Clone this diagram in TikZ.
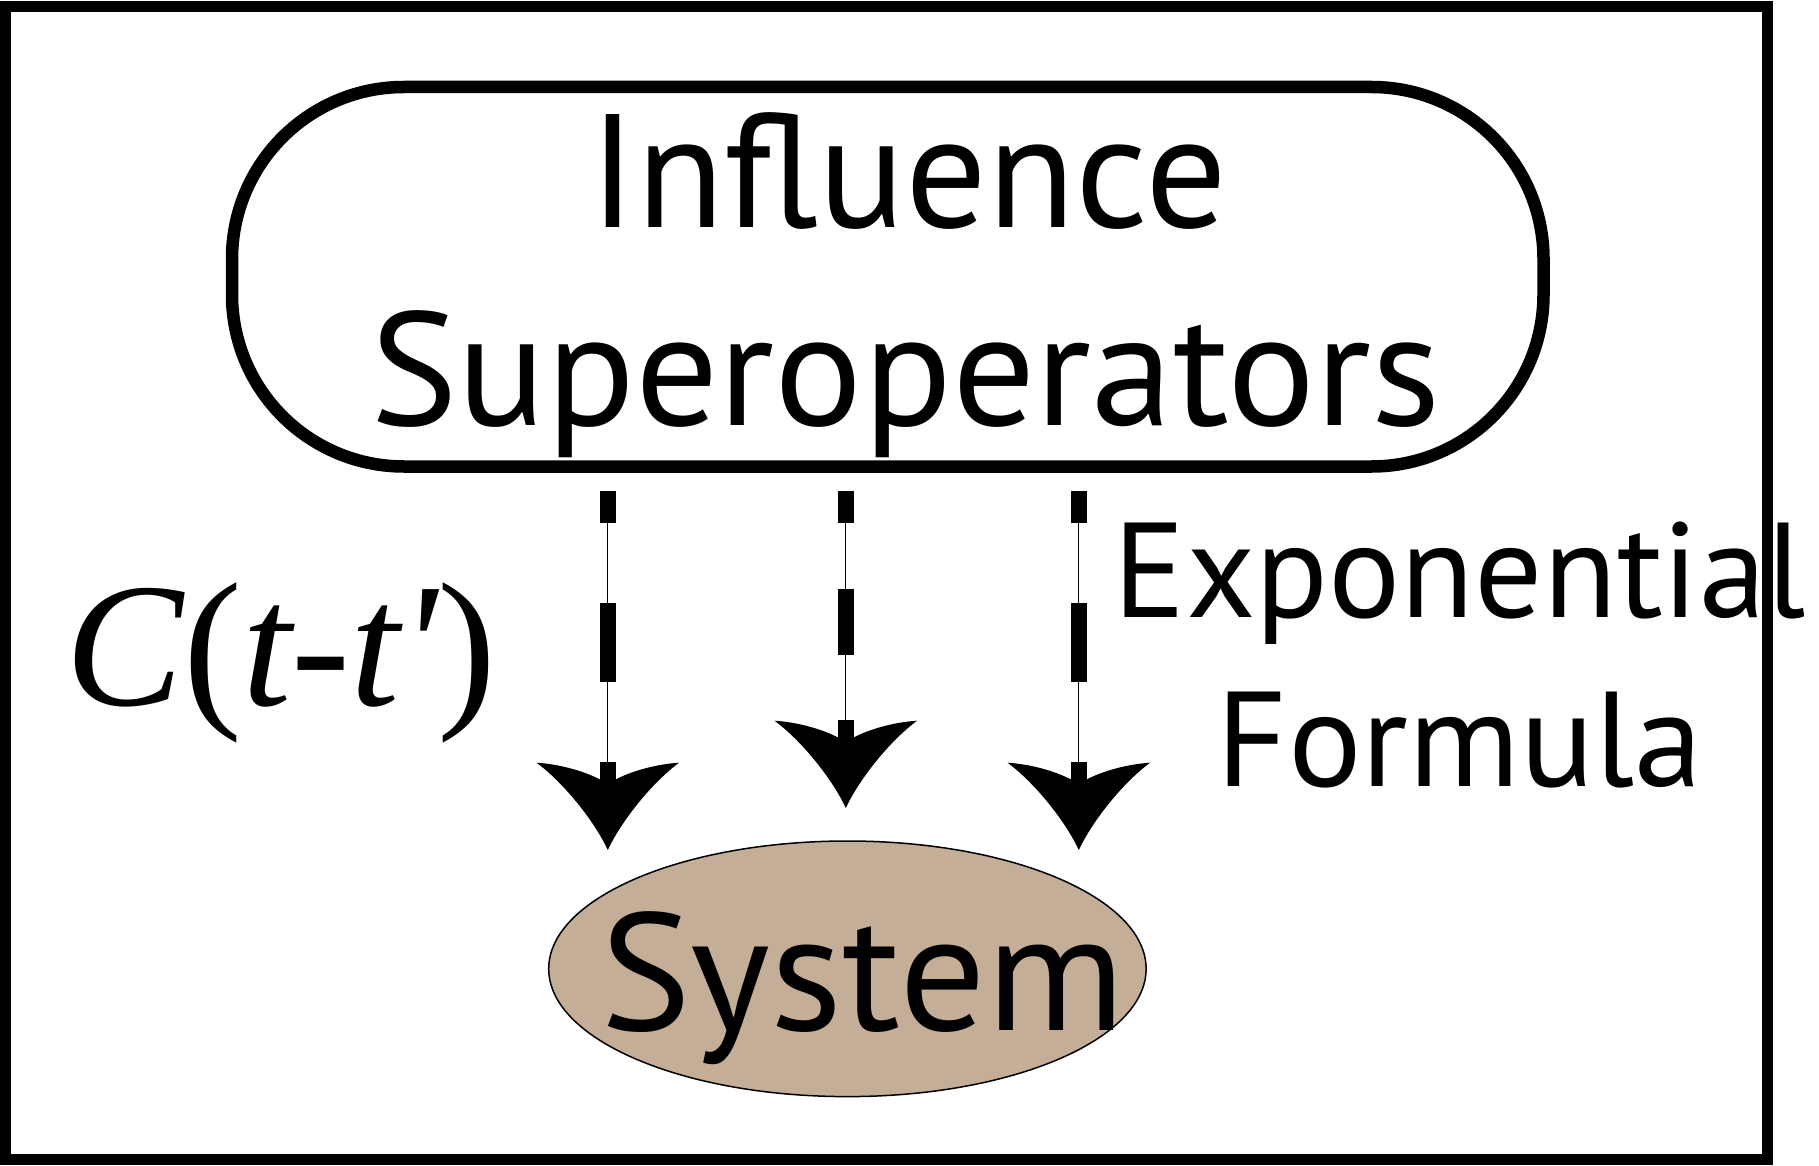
\documentclass[tikz,border=0pt]{standalone}
\usepackage{fontspec}
\usetikzlibrary{shapes.geometric}
\setmainfont{PT Sans}
\newfontfamily\corrup{Liberation Serif}
\newfontfamily\corrit{Liberation Serif Italic}
\definecolor{systemtan}{RGB}{196,174,151}
\tikzset{
  frameline/.style={draw, line width=11pt, inner sep=0pt, minimum width=1761.5pt, minimum height=1152pt},
  influencebox/.style={draw, line width=12.5pt, rounded corners=172pt, inner sep=0pt,
    minimum width=1311.5pt, minimum height=379.5pt},
  systemblob/.style={ellipse, draw, line width=1.5pt, fill=systemtan, inner sep=0pt,
    minimum width=597.4pt, minimum height=255.6pt},
  bigword/.style={anchor=base, inner sep=0pt, font=\fontsize{161.4}{190}\selectfont},
  sideword/.style={anchor=base, inner sep=0pt, font=\fontsize{135}{160}\selectfont},
  sysword/.style={anchor=base, inner sep=0pt, font=\fontsize{167}{200}\selectfont},
  corrword/.style={anchor=base, inner sep=0pt},
  thinshaft/.style={draw, line width=1.2pt},
  dashshaft/.style={draw, line width=15.8pt},
  birdhead/.pic={
    \fill (0,0) .. controls (-14,-30) and (-45,-68) .. (-71.3,-87.3)
      .. controls (-50,-86) and (-20,-79) .. (0,-66)
      .. controls (20,-79) and (50,-86) .. (71.3,-87.3)
      .. controls (45,-68) and (14,-30) .. (0,0) -- cycle;
  }
}
\begin{document}
\begin{tikzpicture}[x=1pt,y=-1pt]
\useasboundingbox (0,0) rectangle (1819,1166);
\fill[white] (0,0) rectangle (1819,1166);

% outer frame
\node[frameline] (frame) at (886.25,583) {};

% bath: influence superoperators
\node[influencebox] (infl) at (887.75,276.75) {};
\node[bigword] (inflA) at (908,227.4) {Influence};
\node[bigword] (inflB) at (905.5,425) {\scalebox{1.02}[1]{Superoperators}};

% system
\node[systemblob] (sys) at (847.4,968.8) {};
\node[sysword] (systxt) at (862.5,1030) {\scalebox{1.025}[1]{System}};

% side labels
\node[corrword] (corr) at (281,705)
  {\fontsize{177}{200}\selectfont{\corrit C}{\corrup(}{\corrit t-t\textquotesingle}{\corrup)}};
\node[sideword] (expA) at (1459.6,617.3) {Exponential};
\node[sideword] (expB) at (1460,786) {\scalebox{1.02}[1]{Formula}};

% arrow end points
\coordinate (s1) at (607.8,491);   \coordinate (t1) at (607.8,850);
\coordinate (s2) at (845.8,491);   \coordinate (t2) at (845.8,808);
\coordinate (s3) at (1078.8,491);  \coordinate (t3) at (1078.8,850);

% dashed arrows from the bath to the system
\draw[thinshaft] (s1) -- ([yshift=66pt]t1);
\draw[dashshaft, dash pattern=on 79pt off 80pt, dash phase=47pt] (s1) -- ([yshift=66pt]t1);
\pic at (t1) {birdhead};

\draw[thinshaft] (s2) -- ([yshift=66pt]t2);
\draw[dashshaft, dash pattern=on 66pt off 65.5pt, dash phase=34pt] (s2) -- ([yshift=66pt]t2);
\pic at (t2) {birdhead};

\draw[thinshaft] (s3) -- ([yshift=66pt]t3);
\draw[dashshaft, dash pattern=on 79pt off 80pt, dash phase=47pt] (s3) -- ([yshift=66pt]t3);
\pic at (t3) {birdhead};
\end{tikzpicture}
\end{document}
